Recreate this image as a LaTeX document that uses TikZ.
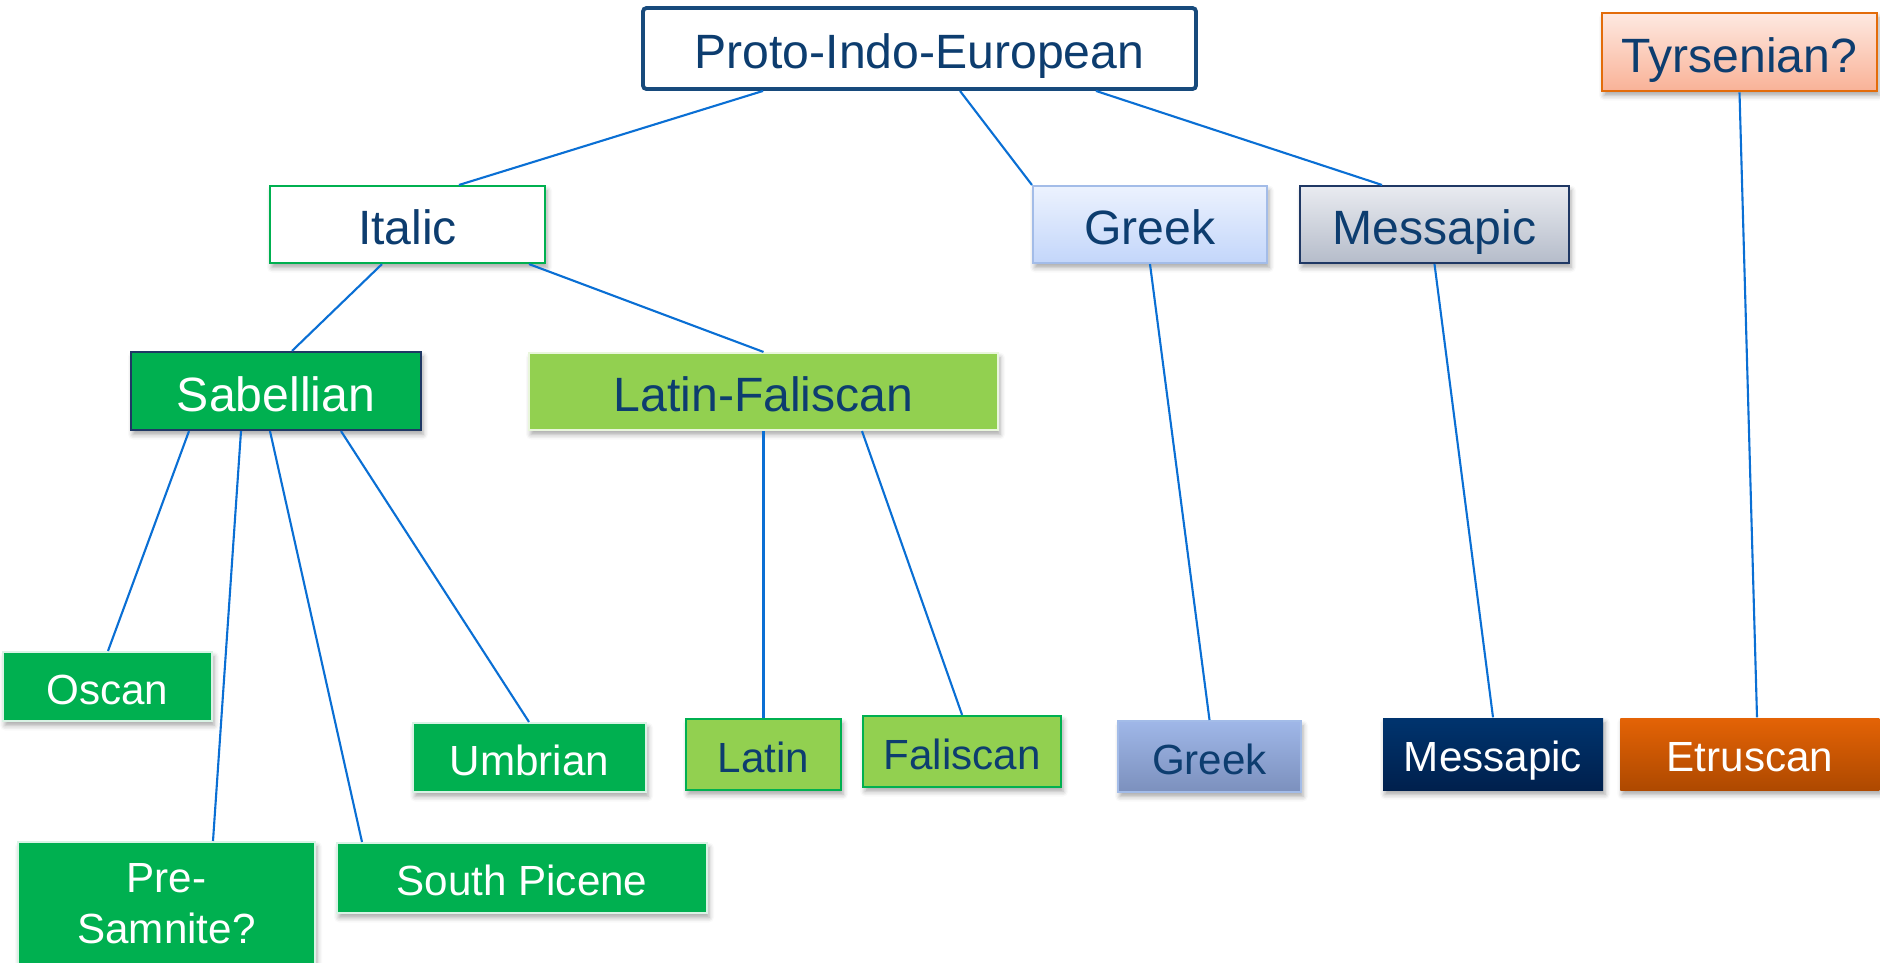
\documentclass[tikz,border=0pt]{standalone}
\usepackage{fontspec}
\setmainfont{Liberation Sans}
\usepackage{tikz}
\usetikzlibrary{positioning, shadows.blur}
\usepackage{xcolor}
\definecolor{pieblue}{HTML}{174A7C}
\definecolor{textblue}{HTML}{0D3D6F}
\definecolor{linkblue}{HTML}{0A6FD4}
\definecolor{sabgreen}{HTML}{00B050}
\definecolor{lfgreen}{HTML}{92D050}
\definecolor{navyedge}{HTML}{1F3864}
\definecolor{tyrorange}{HTML}{E36C0A}
\definecolor{tyrtop}{HTML}{FEE9E1}
\definecolor{tyrbot}{HTML}{F9B297}
\definecolor{grkedge}{HTML}{A3BCE8}
\definecolor{grktop}{HTML}{ECF2FE}
\definecolor{grkbot}{HTML}{C3D6FA}
\definecolor{mestop}{HTML}{E9EBF0}
\definecolor{mesbot}{HTML}{B5BCCA}
\definecolor{grkltop}{HTML}{9FB7E8}
\definecolor{grklbot}{HTML}{7C90BD}
\definecolor{mesltop}{HTML}{00346E}
\definecolor{meslbot}{HTML}{00204D}
\definecolor{etrtop}{HTML}{E46306}
\definecolor{etrbot}{HTML}{AE4900}
\tikzset{
  softshadow/.style={blur shadow={shadow xshift=0.2mm, shadow yshift=-0.45mm,
                     shadow blur radius=0.5mm, shadow opacity=35}},
  famlabel/.style={rectangle, inner sep=0, align=center, text=textblue,
                   text height=11.4pt, text depth=0pt,
                   font=\fontsize{13.7}{16}\selectfont},
  piebox/.style={famlabel, draw=pieblue, fill=white, line width=1.1pt, rounded corners=1pt},
  tyrbox/.style={famlabel, draw=tyrorange, line width=0.8pt,
                 top color=tyrtop, bottom color=tyrbot, softshadow},
  italbox/.style={famlabel, draw=sabgreen, fill=white, line width=0.6pt, softshadow},
  grkbox/.style={famlabel, draw=grkedge, line width=0.6pt,
                 top color=grktop, bottom color=grkbot, softshadow},
  mesbox/.style={famlabel, draw=navyedge, line width=0.6pt,
                 top color=mestop, bottom color=mesbot, softshadow},
  sabbox/.style={famlabel, draw=navyedge, fill=sabgreen, text=white, line width=0.6pt, softshadow},
  lfbox/.style={famlabel, draw=white!80!lfgreen, fill=lfgreen, line width=0.6pt, softshadow},
  % --- leaf languages ---
  leaf/.style={rectangle, inner sep=0, align=center,
               font=\fontsize{12}{14.5}\selectfont, softshadow},
  oneline/.style={text height=10pt, text depth=0pt},
  sableaf/.style={leaf, draw=white!85!sabgreen, fill=sabgreen, text=white, line width=0.6pt},
  lfleaf/.style={leaf, oneline, draw=sabgreen, fill=lfgreen, text=textblue, line width=0.6pt},
  grkleaf/.style={leaf, oneline, draw=grkedge, line width=0.6pt,
                  top color=grkltop, bottom color=grklbot, text=textblue},
  mesleaf/.style={leaf, oneline, top color=mesltop, bottom color=meslbot, text=white},
  etrleaf/.style={leaf, oneline, top color=etrtop, bottom color=etrbot, text=white},
  branch/.style={draw=linkblue, line width=0.6pt},
}

\begin{document}
\begin{tikzpicture}[x=0.1mm, y=-0.1mm]
  \useasboundingbox (0,0) rectangle (1880,962);

  % Top row
  \node[piebox, minimum width=55.3mm, minimum height=8.1mm] (pie) at (919.5,48.5) {Proto-Indo-European};
  \node[tyrbox, minimum width=27.5mm, minimum height=7.8mm] (tyr) at (1739.5,52) {Tyrsenian?};

  % Second row
  \node[italbox, minimum width=27.5mm, minimum height=7.7mm] (italic)  at (407.5,224.5) {Italic};
  \node[grkbox,  minimum width=23.4mm, minimum height=7.7mm] (greekup) at (1150,224.5)  {Greek};
  \node[mesbox,  minimum width=26.9mm, minimum height=7.7mm] (messup)  at (1434.5,224.5) {Messapic};

  % Italic branches
  \node[sabbox, minimum width=29mm,   minimum height=7.8mm] (sabel)  at (276,391)    {Sabellian};
  \node[lfbox,  minimum width=46.9mm, minimum height=7.7mm] (latfal) at (763.5,391.5) {Latin-Faliscan};

  % Leaves
  \node[sableaf, oneline, minimum width=20.9mm, minimum height=6.9mm] (oscan) at (107.5,686.5) {Oscan};
  \node[sableaf, oneline, minimum width=23.3mm, minimum height=6.9mm] (umbr)  at (529.5,757.5) {Umbrian};
  \node[sableaf, minimum width=29.7mm, minimum height=12.4mm] (presam) at (166.5,904) {Pre-\\Samnite?};
  \node[sableaf, oneline, minimum width=37mm, minimum height=7mm] (southp) at (522,878) {South Picene};
  \node[lfleaf,  minimum width=15.5mm, minimum height=7.1mm]  (latin)  at (763.5,754.5) {Latin};
  \node[lfleaf,  minimum width=19.8mm, minimum height=7.1mm, right=2mm of latin, yshift=0.3mm] (falis) {Faliscan};
  \node[grkleaf, minimum width=18.3mm, minimum height=7.1mm]  (greeklo) at (1209.5,756.5) {Greek};
  \node[mesleaf, minimum width=22mm,   minimum height=7.2mm]  (messlo)  at (1493,754)    {Messapic};
  \node[etrleaf, minimum width=25.9mm, minimum height=7.2mm, right=1.6mm of messlo] (etr) {Etruscan};

  % Links
  \draw[branch] (763,0 |- pie.south)  -- (459,0 |- italic.north);
  \draw[branch] (960,0 |- pie.south)  -- (greekup.north west);
  \draw[branch] (1096,0 |- pie.south) -- (1382,0 |- messup.north);
  \draw[branch] (tyr.south) -- (1757,0 |- etr.north);
  \draw[branch] (382,0 |- italic.south) -- (292,0 |- sabel.north);
  \draw[branch] (529,0 |- italic.south) -- (latfal.north);
  \draw[branch] (greekup.south) -- (greeklo.north);
  \draw[branch] (messup.south) -- (messlo.north);
  \draw[branch] (189,0 |- sabel.south) -- (108,0 |- oscan.north);
  \draw[branch] (241,0 |- sabel.south) -- (213,0 |- presam.north);
  \draw[branch] (270,0 |- sabel.south) -- (362,0 |- southp.north);
  \draw[branch] (341,0 |- sabel.south) -- (529,0 |- umbr.north);
  \draw[branch] (latfal.south) -- (latin.north);
  \draw[branch] (862,0 |- latfal.south) -- (falis.north);

\end{tikzpicture}
\end{document}
